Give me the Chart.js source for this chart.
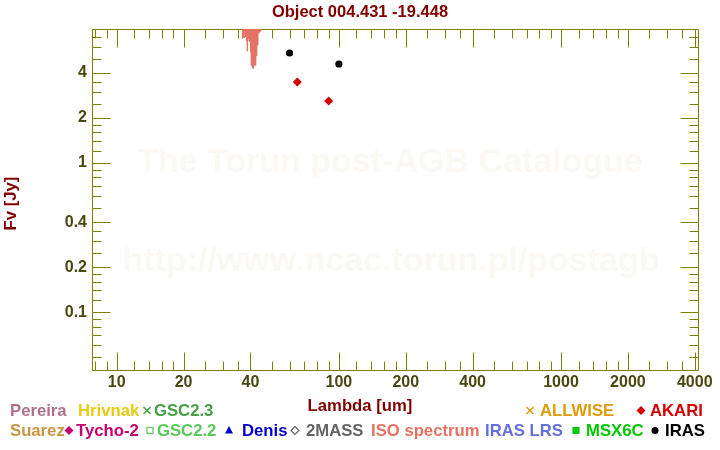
<!DOCTYPE html>
<html><head><meta charset="utf-8">
<script src="https://cdn.jsdelivr.net/npm/chart.js@4/dist/chart.umd.min.js"></script>
<style>html,body{margin:0;padding:0;background:#fff}#wrap{width:720px;height:450px}</style>
</head><body><div id="wrap"><canvas id="c" width="720" height="450"></canvas></div>
<script>
// ---- data ----
const isoWavelength = [36.7,36.8,36.9,37.0,37.2,37.4,37.5,37.7,37.9,38.0,38.2,38.4,38.5,38.7,38.8,39.0,39.2,39.4,39.5,39.7,39.9,40.1,40.2,40.3,40.4,40.5,40.6,40.7,40.8,40.9,41.0,41.1,41.2,41.3,41.4,41.5,41.6,41.7,41.8,41.9,42.0,42.1,42.2,42.3,42.4,42.6,42.7,42.8,43.0,43.1,43.3,43.5,43.7,43.9,44.1,44.3,44.5,44.8,45.0];
const isoFlux =       [9.5,6.8,9.0,7.2,9.8,6.9,8.5,10.0,8.8,7.0,9.5,6.6,8.2,5.6,9.0,6.8,10.5,6.5,8.0,7.0,9.5,5.5,8.5,4.5,9.0,4.6,8.8,4.4,9.2,4.3,8.6,4.3,9.0,4.4,8.8,4.5,9.3,4.5,8.9,4.6,9.1,4.5,8.7,4.7,9.0,5.2,9.4,6.0,8.6,6.2,9.5,7.4,10.0,7.5,9.8,7.6,11.0,9.5,12.0];
const irasWavelength = [60, 100];
const irasFlux = [5.45, 4.60];
const akariWavelength = [65, 90];
const akariFlux = [3.48, 2.60];
const xMajorTicks = [10,20,40,100,200,400,1000,2000,4000];
const xMinorTicks = [8,9,12,14,16,18,25,30,35,50,60,70,80,90,120,140,160,180,250,300,350,500,600,700,800,900,1200,1400,1600,1800,2500,3000,3500];
const yMajorTicks = [0.1,0.2,0.4,1,2,4];
const yMinorTicks = [0.05,0.06,0.07,0.08,0.09,0.12,0.14,0.16,0.18,0.25,0.3,0.35,0.5,0.6,0.7,0.8,0.9,1.2,1.4,1.6,1.8,2.5,3,3.5,5,6,7];
const legendLabels  = ['Pereira','Hrivnak','GSC2.3','ALLWISE','AKARI','Suarez','Tycho-2','GSC2.2','Denis','2MASS','ISO spectrum','IRAS LRS','MSX6C','IRAS'];
const legendColors  = ['#b06e8c','#e8cc14','#46a046','#e09b0a','#d40000','#c89440','#c8006e','#5ac85a','#0000c8','#646464','#e47364','#6470dc','#00c800','#000000'];
const legendMarkers = ['none','none','cross','cross','diamond','none','diamond','openSquare','triangle','openDiamond','none','none','square','circle'];

// ---- layout ----
const FONT = 'Liberation Sans, Arial, sans-serif';
const AXIS = '#808000';
const TICKTXT = '#484810';
const DARKRED = '#800000';
const legendPos = [ // [markerX, textX, row]
  [null,10,0],[null,78,0],[147,154,0],[530,540,0],[641,650,0],
  [null,10,1],[69,76,1],[150,157,1],[229,242,1],[295,306,1],[null,371,1],[null,485,1],[576,586,1],[655,665,1]
];
const rowBase = [416, 436];

const allX = xMajorTicks.concat(xMinorTicks).sort((a,b)=>a-b);
const allY = yMajorTicks.concat(yMinorTicks).sort((a,b)=>a-b);

const bgPlugin = {
  id:'bg',
  beforeDraw(chart){
    const {ctx} = chart;
    ctx.save();
    ctx.fillStyle='#fff'; ctx.fillRect(0,0,chart.width,chart.height);
    ctx.fillStyle='#fcf9f4';
    ctx.font='bold 34px '+FONT;
    ctx.textAlign='center'; ctx.textBaseline='middle';
    ctx.fillText('The Torun post-AGB Catalogue', 390, 163);
    ctx.fillText('http://www.ncac.torun.pl/postagb', 391, 262);
    ctx.restore();
  }
};

const framePlugin = {
  id:'frame',
  beforeDatasetsDraw(chart){
    const {ctx, chartArea:a, scales:{x,y}} = chart;
    ctx.save();
    ctx.strokeStyle=AXIS; ctx.lineWidth=1;
    const L=Math.round(a.left)+0.5, R=Math.round(a.right)-0.5, T=Math.round(a.top)+0.5, B=Math.round(a.bottom)-0.5;
    ctx.beginPath();
    ctx.rect(L,T,R-L,B-T);
    x.ticks.forEach(t=>{
      const px=Math.round(x.getPixelForValue(t.value))+0.5;
      const len = xMajorTicks.includes(t.value)?18:9;
      ctx.moveTo(px,B); ctx.lineTo(px,B-len);
      ctx.moveTo(px,T); ctx.lineTo(px,T+len);
    });
    y.ticks.forEach(t=>{
      const py=Math.round(y.getPixelForValue(t.value))+0.5;
      const len = yMajorTicks.includes(t.value)?18:9;
      ctx.moveTo(L,py); ctx.lineTo(L+len,py);
      ctx.moveTo(R,py); ctx.lineTo(R-len,py);
    });
    ctx.stroke();
    ctx.restore();
  }
};

function drawMarker(ctx, type, cx, cy, color){
  ctx.save();
  ctx.fillStyle=color; ctx.strokeStyle=color; ctx.lineWidth=1.5;
  ctx.beginPath();
  if(type==='cross'){ const h=3.5; ctx.moveTo(cx-h,cy-h);ctx.lineTo(cx+h,cy+h);ctx.moveTo(cx+h,cy-h);ctx.lineTo(cx-h,cy+h);ctx.stroke(); }
  else if(type==='diamond'){ const h=4.5; ctx.moveTo(cx,cy-h);ctx.lineTo(cx+h,cy);ctx.lineTo(cx,cy+h);ctx.lineTo(cx-h,cy);ctx.closePath();ctx.fill(); }
  else if(type==='openDiamond'){ const h=4; ctx.lineWidth=1.2; ctx.moveTo(cx,cy-h);ctx.lineTo(cx+h,cy);ctx.lineTo(cx,cy+h);ctx.lineTo(cx-h,cy);ctx.closePath();ctx.stroke(); }
  else if(type==='openSquare'){ ctx.lineWidth=1.2; ctx.strokeRect(cx-3,cy-3,6,6); }
  else if(type==='square'){ ctx.fillRect(cx-3.5,cy-3.5,7,7); }
  else if(type==='triangle'){ ctx.moveTo(cx,cy-4.5);ctx.lineTo(cx+4,cy+3);ctx.lineTo(cx-4,cy+3);ctx.closePath();ctx.fill(); }
  else if(type==='circle'){ ctx.arc(cx,cy,3.5,0,Math.PI*2);ctx.fill(); }
  ctx.restore();
}

const legendPlugin = {
  id:'customLegend',
  afterDraw(chart){
    const {ctx} = chart;
    ctx.save();
    ctx.font='bold 16.7px '+FONT;
    ctx.textBaseline='alphabetic'; ctx.textAlign='left';
    legendLabels.forEach((lab,i)=>{
      const [mx,tx,row]=legendPos[i];
      const base=rowBase[row];
      if(mx!==null) drawMarker(ctx, legendMarkers[i], mx, base-5.5, legendColors[i]);
      ctx.fillStyle=legendColors[i];
      ctx.fillText(lab, tx, base);
    });
    // axis titles
    ctx.fillStyle=DARKRED;
    ctx.textAlign='center';
    ctx.fillText('Lambda [um]', 360, 411);
    ctx.translate(16, 203.5);
    ctx.rotate(-Math.PI/2);
    ctx.fillText('Fv [Jy]', 0, 0);
    ctx.restore();
  }
};

new Chart(document.getElementById('c'), {
  type:'scatter',
  data:{datasets:[
    {label:'ISO spectrum', data: isoWavelength.map((w,i)=>({x:w,y:isoFlux[i]})), showLine:true, borderColor:'#e47364', backgroundColor:'#e47364', borderWidth:1, pointRadius:0, clip:0, order:3},
    {label:'AKARI', data: akariWavelength.map((w,i)=>({x:w,y:akariFlux[i]})), pointStyle:'rectRot', pointRadius:4.5, backgroundColor:'#d40000', borderColor:'#d40000', borderWidth:0, order:2},
    {label:'IRAS', data: irasWavelength.map((w,i)=>({x:w,y:irasFlux[i]})), pointStyle:'circle', pointRadius:3.6, backgroundColor:'#000', borderColor:'#000', borderWidth:0, order:1}
  ]},
  options:{
    responsive:false, animation:false, devicePixelRatio:1,
    layout:{padding:0},
    plugins:{
      legend:{display:false}, tooltip:{enabled:false},
      title:{display:true, text:'Object 004.431 -19.448', color:DARKRED, font:{family:FONT,size:16.5,weight:'bold',lineHeight:1}, padding:{top:4,bottom:8.5}}
    },
    scales:{
      x:{type:'logarithmic', min:7.74, max:4180,
        grid:{display:false, drawTicks:false}, border:{display:false},
        afterBuildTicks:s=>{ s.ticks = allX.map(v=>({value:v})); },
        afterFit:s=>{ s.height = 79; },
        ticks:{autoSkip:false, maxRotation:0, minRotation:0, padding:2, color:TICKTXT, font:{family:FONT,size:16,weight:'bold'},
          callback:v=> xMajorTicks.includes(v) ? String(v) : ''}
      },
      y:{type:'logarithmic', min:0.0404, max:7.89,
        grid:{display:false, drawTicks:false}, border:{display:false},
        afterBuildTicks:s=>{ s.ticks = allY.map(v=>({value:v})); },
        afterFit:s=>{ s.width = 92; },
        ticks:{autoSkip:false, padding:5, color:TICKTXT, font:{family:FONT,size:16,weight:'bold'},
          callback:v=> yMajorTicks.includes(v) ? String(v) : ''}
      },
      yRight:{position:'right', display:true,
        grid:{display:false, drawTicks:false}, border:{display:false},
        ticks:{display:false},
        afterFit:s=>{ s.width = 21; }
      }
    }
  },
  plugins:[bgPlugin, framePlugin, legendPlugin]
});
</script></body></html>
